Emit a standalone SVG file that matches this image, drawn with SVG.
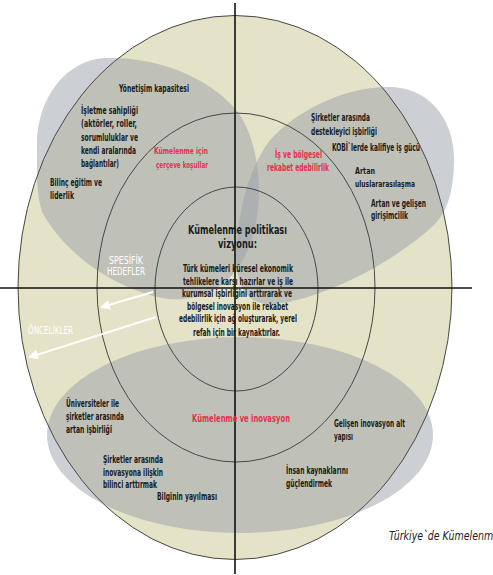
<svg xmlns="http://www.w3.org/2000/svg" width="493" height="575" viewBox="0 0 493 575">
<style>
.ring{fill:none;stroke:#474747;stroke-width:1}
.blob{fill:#9a9fa8;fill-opacity:0.5}
.t{font-family:"Liberation Sans Narrow","DejaVu Sans Condensed","Liberation Sans",sans-serif;font-stretch:condensed;font-weight:bold;font-size:10.5px;fill:#1b1b1b}
.r{fill:#e0324f}
.w{fill:#ffffff;font-weight:normal}
.h{font-size:12.5px}
.b{font-size:10px}
.s{font-size:9.5px}
.cap{font-family:"Liberation Sans Narrow","DejaVu Sans Condensed","Liberation Sans",sans-serif;font-style:italic;font-size:13px;fill:#222}
.ax{stroke:#111;stroke-width:1.6}
.arr{stroke:#fff;stroke-width:2;fill:none}
</style>
<defs>
<marker id="ah" viewBox="0 0 10 10" refX="8" refY="5" markerWidth="5" markerHeight="5" orient="auto" markerUnits="strokeWidth">
<path d="M0,0 L10,5 L0,10 Z" fill="#fff"/>
</marker>
</defs>
<rect width="493" height="575" fill="#ffffff"/>
<g id="background">
<ellipse cx="235" cy="287.5" rx="217" ry="272" fill="#e4e3c8"/>
</g>
<g id="blobs">
<path id="blob-governance" class="blob" d="M37,150 C35,100 65,60 105,58 C160,56 215,80 240,115 C262,150 265,210 248,250 C232,285 205,302 168,299 C125,292 70,262 42,212 C36,192 37,170 37,150 Z"/>
<path id="blob-competitiveness" class="blob" d="M385,87 C425,85 456,115 454,165 C453,195 446,212 435,224 C395,262 325,298 276,304 C250,307 236,290 236,255 C238,210 248,170 270,140 C300,108 345,88 385,87 Z"/>
<ellipse id="blob-innovation" class="blob" cx="240" cy="435" rx="193" ry="98"/>
</g>
<g id="ring-outer"><ellipse class="ring" cx="235" cy="287.5" rx="217" ry="272"/></g>
<g id="ring-middle"><ellipse class="ring" cx="236" cy="287.5" rx="139" ry="174.5"/></g>
<g id="ring-inner"><ellipse class="ring" cx="236.5" cy="289" rx="81.5" ry="102"/></g>
<g id="connectors">
<line class="ax" x1="0" y1="288" x2="472" y2="288"/>
<line class="ax" x1="235" y1="3" x2="235" y2="574"/>
<line class="arr" x1="153" y1="292" x2="102" y2="307" marker-end="url(#ah)"/>
<line class="arr" x1="156" y1="317" x2="30" y2="357" marker-end="url(#ah)"/>
</g>
<g id="node-governance">
<text class="t" x="119" y="92" textLength="70" lengthAdjust="spacingAndGlyphs">Yönetişim kapasitesi</text>
<text class="t" x="81" y="114" textLength="57" lengthAdjust="spacingAndGlyphs">İşletme sahipliği</text>
<text class="t" x="81" y="127" textLength="56" lengthAdjust="spacingAndGlyphs">(aktörler, roller,</text>
<text class="t" x="81" y="141" textLength="57" lengthAdjust="spacingAndGlyphs">sorumluluklar ve</text>
<text class="t" x="81" y="154" textLength="55" lengthAdjust="spacingAndGlyphs">kendi aralarında</text>
<text class="t" x="81" y="167" textLength="38" lengthAdjust="spacingAndGlyphs">bağlantılar)</text>
<text class="t" x="50" y="186" textLength="52" lengthAdjust="spacingAndGlyphs">Bilinç eğitim ve</text>
<text class="t" x="50" y="199" textLength="24" lengthAdjust="spacingAndGlyphs">liderlik</text>
<text class="t r s" x="154" y="154" textLength="54" lengthAdjust="spacingAndGlyphs">Kümelenme için</text>
<text class="t r s" x="156" y="168" textLength="52" lengthAdjust="spacingAndGlyphs">çerçeve koşullar</text>
</g>
<g id="node-competitiveness">
<text class="t" x="311" y="121" textLength="59" lengthAdjust="spacingAndGlyphs">Şirketler arasında</text>
<text class="t" x="311" y="135" textLength="66" lengthAdjust="spacingAndGlyphs">destekleyici işbirliği</text>
<text class="t" x="332" y="151" textLength="88" lengthAdjust="spacingAndGlyphs">KOBİ`lerde kalifiye iş gücü</text>
<text class="t r" x="275" y="158" textLength="47" lengthAdjust="spacingAndGlyphs">İş ve bölgesel</text>
<text class="t r" x="267" y="171" textLength="62" lengthAdjust="spacingAndGlyphs">rekabet edebilirlik</text>
<text class="t s" x="355" y="174" textLength="20" lengthAdjust="spacingAndGlyphs">Artan</text>
<text class="t s" x="355" y="187" textLength="60" lengthAdjust="spacingAndGlyphs">uluslararasılaşma</text>
<text class="t" x="371" y="207" textLength="55" lengthAdjust="spacingAndGlyphs">Artan ve gelişen</text>
<text class="t" x="371" y="219" textLength="37" lengthAdjust="spacingAndGlyphs">girişimcilik</text>
</g>
<g id="node-vision">
<text class="t h" x="188" y="234" textLength="99" lengthAdjust="spacingAndGlyphs">Kümelenme politikası</text>
<text class="t h" x="218" y="248" textLength="39" lengthAdjust="spacingAndGlyphs">vizyonu:</text>
<text class="t b" x="183" y="272" textLength="110" lengthAdjust="spacingAndGlyphs">Türk kümeleri küresel ekonomik</text>
<text class="t b" x="183" y="285" textLength="110" lengthAdjust="spacingAndGlyphs">tehlikelere karşı hazırlar ve iş ile</text>
<text class="t b" x="182" y="297" textLength="110" lengthAdjust="spacingAndGlyphs">kurumsal işbirliğini arttırarak ve</text>
<text class="t b" x="187" y="310" textLength="101" lengthAdjust="spacingAndGlyphs">bölgesel inovasyon ile rekabet</text>
<text class="t b" x="179" y="322" textLength="118" lengthAdjust="spacingAndGlyphs">edebilirlik için ağ oluşturarak, yerel</text>
<text class="t b" x="193" y="336" textLength="87" lengthAdjust="spacingAndGlyphs">refah için bir kaynaktırlar.</text>
</g>
<g id="node-levels">
<text class="t w" x="109" y="264" textLength="34" lengthAdjust="spacingAndGlyphs">SPESİFİK</text>
<text class="t w" x="107" y="275" textLength="38" lengthAdjust="spacingAndGlyphs">HEDEFLER</text>
<text class="t w" x="28" y="334" textLength="45" lengthAdjust="spacingAndGlyphs">ÖNCELİKLER</text>
</g>
<g id="node-innovation">
<text class="t" x="66" y="407" textLength="53" lengthAdjust="spacingAndGlyphs">Üniversiteler ile</text>
<text class="t" x="66" y="420" textLength="58" lengthAdjust="spacingAndGlyphs">şirketler arasında</text>
<text class="t" x="66" y="433" textLength="46" lengthAdjust="spacingAndGlyphs">artan işbirliği</text>
<text class="t" x="103" y="463" textLength="60" lengthAdjust="spacingAndGlyphs">Şirketler arasında</text>
<text class="t" x="103" y="476" textLength="60" lengthAdjust="spacingAndGlyphs">inovasyona ilişkin</text>
<text class="t" x="103" y="488" textLength="54" lengthAdjust="spacingAndGlyphs">bilinci arttırmak</text>
<text class="t" x="157" y="500" textLength="60" lengthAdjust="spacingAndGlyphs">Bilginin yayılması</text>
<text class="t r" x="192" y="422" textLength="98" lengthAdjust="spacingAndGlyphs">Kümelenme ve inovasyon</text>
<text class="t" x="334" y="427" textLength="71" lengthAdjust="spacingAndGlyphs">Gelişen inovasyon alt</text>
<text class="t" x="334" y="440" textLength="19" lengthAdjust="spacingAndGlyphs">yapısı</text>
<text class="t" x="286" y="474" textLength="62" lengthAdjust="spacingAndGlyphs">İnsan kaynaklarını</text>
<text class="t" x="286" y="487" textLength="46" lengthAdjust="spacingAndGlyphs">güçlendirmek</text>
</g>
<g id="caption">
<text class="cap" x="389" y="540" textLength="110" lengthAdjust="spacingAndGlyphs">Türkiye`de Kümelenme</text>
</g>
</svg>
